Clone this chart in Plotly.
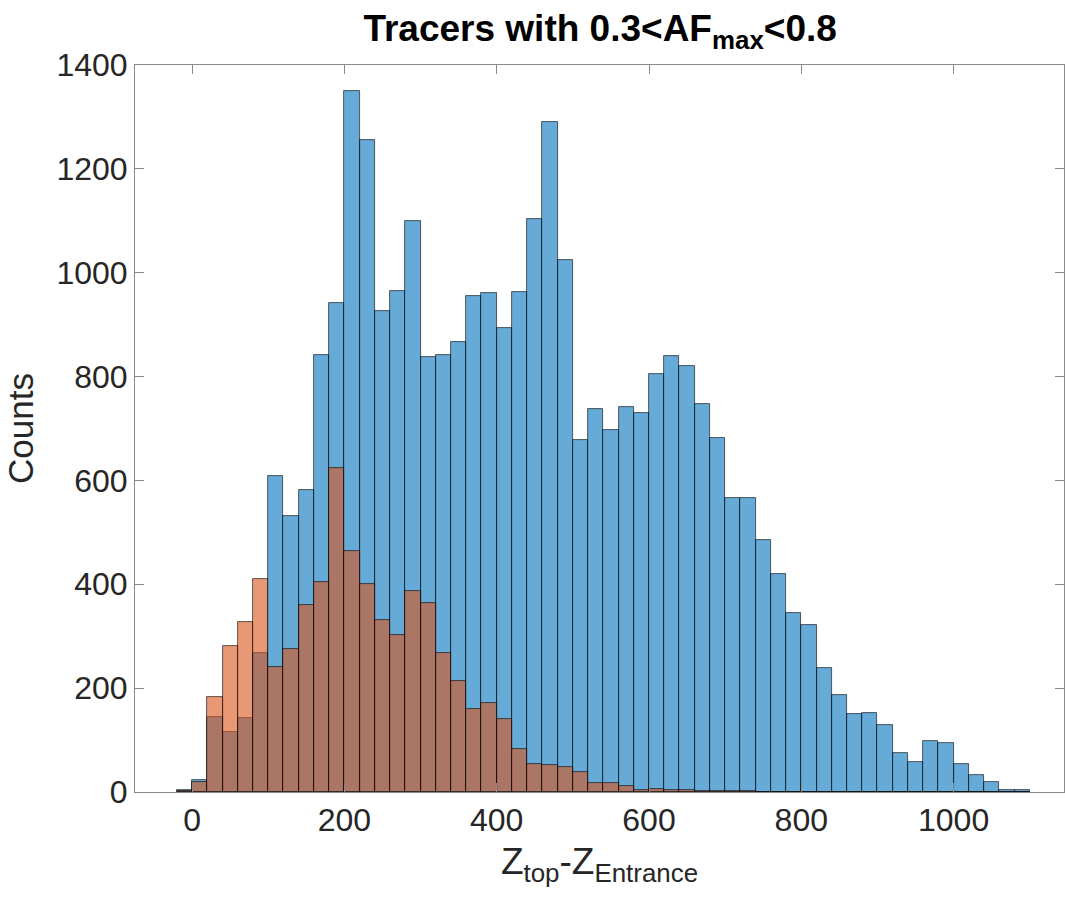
import plotly.graph_objects as go

bin_width = 20
bin_left_edges = list(range(-20, 1100, 20))

blue_counts = [3, 23, 145, 116, 142, 268, 608, 532, 581, 842,
               942, 1350, 1256, 926, 965, 1099, 838, 842, 866, 955,
               961, 893, 963, 1104, 1290, 1024, 677, 738, 697, 741,
               730, 804, 840, 820, 747, 681, 567, 566, 485, 419,
               344, 321, 238, 186, 151, 153, 129, 76, 57, 99,
               95, 54, 32, 20, 3, 3]

orange_counts = [2, 20, 182, 282, 327, 411, 240, 276, 360, 405,
                 623, 465, 401, 332, 302, 388, 364, 268, 213, 160,
                 172, 140, 83, 53, 52, 48, 38, 17, 18, 11,
                 3, 6, 3, 3, 1, 2, 1, 2, 0, 0,
                 0, 0, 0, 0, 0, 0, 0, 0, 0, 0,
                 0, 0, 0, 0, 0, 0]

y_ticks = [0, 200, 400, 600, 800, 1000, 1200, 1400]
x_ticks = [0, 200, 400, 600, 800, 1000]

centers = [e + bin_width / 2 for e in bin_left_edges]

fig = go.Figure()
fig.add_trace(go.Bar(
    x=centers, y=blue_counts, width=bin_width,
    marker=dict(color="rgba(0,114,189,0.6)",
                line=dict(color="rgba(0,0,0,0.75)", width=0.8)),
    showlegend=False))
fig.add_trace(go.Bar(
    x=centers, y=orange_counts, width=bin_width,
    marker=dict(color="rgba(217,83,25,0.6)",
                line=dict(color="rgba(0,0,0,0.75)", width=0.8)),
    showlegend=False))

font_family = "Liberation Sans, Arial, Helvetica, sans-serif"
axis_common = dict(
    showline=True, linecolor="#8a8a8a", linewidth=1, mirror="ticks",
    ticks="inside", ticklen=9, tickwidth=1, tickcolor="#8a8a8a",
    showgrid=False, zeroline=False,
    tickfont=dict(family=font_family, size=32, color="#262626"),
)

fig.update_layout(
    width=1065, height=901,
    margin=dict(l=135, r=1, t=65, b=109),
    paper_bgcolor="white", plot_bgcolor="white",
    barmode="overlay", bargap=0,
    title=dict(text="<b>Tracers with 0.3&lt;AF<sub>max</sub>&lt;0.8</b>",
               x=0.5635, xanchor="center", y=1 - 15 / 901, yanchor="top",
               font=dict(family=font_family, size=37, color="black")),
    xaxis=dict(range=[-75, 1145], tickvals=x_ticks,
               title=dict(text="Z<sub>top</sub>-Z<sub>Entrance</sub>",
                          font=dict(family=font_family, size=37, color="#262626"),
                          standoff=10),
               **axis_common),
    yaxis=dict(range=[0, 1400], tickvals=y_ticks,
               title=dict(text="Counts",
                          font=dict(family=font_family, size=35, color="#262626"),
                          standoff=12),
               **axis_common),
)

fig.write_html("out.html")
